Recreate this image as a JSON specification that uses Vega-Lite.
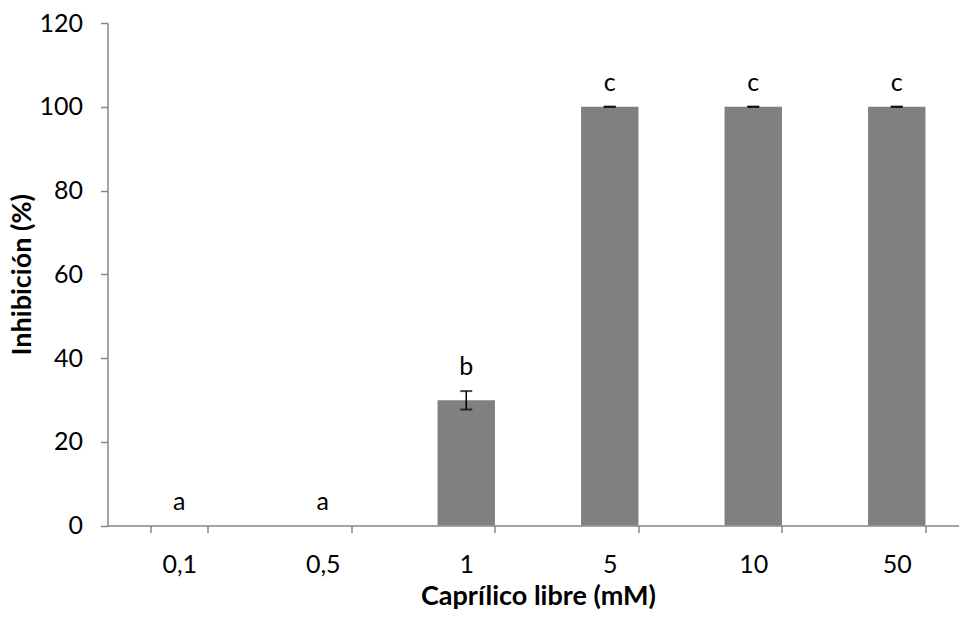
{
  "$schema": "https://vega.github.io/schema/vega-lite/v6.json",
  "autosize": {"type": "none"},
  "width": 861,
  "height": 502.5,
  "padding": {"left": 107.5, "top": 23, "right": 0, "bottom": 92},
  "background": "white",
  "config": {
    "font": "Lato",
    "view": {"stroke": null},
    "axis": {
      "domainColor": "#868686",
      "domainWidth": 1.5,
      "tickColor": "#868686",
      "tickWidth": 1.5,
      "tickSize": 7,
      "labelColor": "#000000",
      "labelFont": "Lato",
      "labelFontSize": 25,
      "titleFont": "Lato",
      "titleFontSize": 27,
      "titleFontWeight": "bold",
      "titleColor": "#000000",
      "grid": false
    }
  },
  "data": {
    "values": [
      {"dose": "0,1", "value": 0, "err": 0, "group": "a"},
      {"dose": "0,5", "value": 0, "err": 0, "group": "a"},
      {"dose": "1", "value": 29.9, "err": 2.2, "group": "b"},
      {"dose": "5", "value": 100, "err": 0, "group": "c"},
      {"dose": "10", "value": 100, "err": 0, "group": "c"},
      {"dose": "50", "value": 100, "err": 0, "group": "c"}
    ]
  },
  "transform": [
    {"calculate": "datum.value - datum.err", "as": "lo"},
    {"calculate": "datum.value + datum.err", "as": "hi"}
  ],
  "encoding": {
    "x": {
      "field": "dose",
      "type": "nominal",
      "sort": null,
      "scale": {"paddingInner": 0.6, "paddingOuter": 0.3},
      "axis": {
        "title": "Caprílico libre (mM)",
        "labelAngle": 0,
        "tickBand": "extent",
        "labelPadding": 20,
        "titlePadding": 6
      }
    }
  },
  "layer": [
    {
      "mark": {"type": "bar", "color": "#808080"},
      "encoding": {
        "y": {
          "field": "value",
          "type": "quantitative",
          "scale": {"domain": [0, 120], "nice": false},
          "axis": {
            "title": "Inhibición (%)",
            "values": [0, 20, 40, 60, 80, 100, 120],
            "labelPadding": 18,
            "titlePadding": 2
          }
        }
      }
    },
    {
      "transform": [{"filter": "datum.value > 0"}],
      "mark": {"type": "rule", "color": "#000000", "strokeWidth": 1.5},
      "encoding": {
        "y": {"field": "lo", "type": "quantitative"},
        "y2": {"field": "hi"}
      }
    },
    {
      "transform": [{"filter": "datum.value > 0"}],
      "mark": {"type": "tick", "color": "#000000", "thickness": 2, "size": 12},
      "encoding": {"y": {"field": "lo", "type": "quantitative"}}
    },
    {
      "transform": [{"filter": "datum.value > 0"}],
      "mark": {"type": "tick", "color": "#000000", "thickness": 2, "size": 12},
      "encoding": {"y": {"field": "hi", "type": "quantitative"}}
    },
    {
      "mark": {"type": "text", "baseline": "alphabetic", "dy": -16, "fontSize": 25, "font": "Lato", "color": "#000000"},
      "encoding": {
        "y": {"field": "hi", "type": "quantitative"},
        "text": {"field": "group"}
      }
    }
  ]
}
